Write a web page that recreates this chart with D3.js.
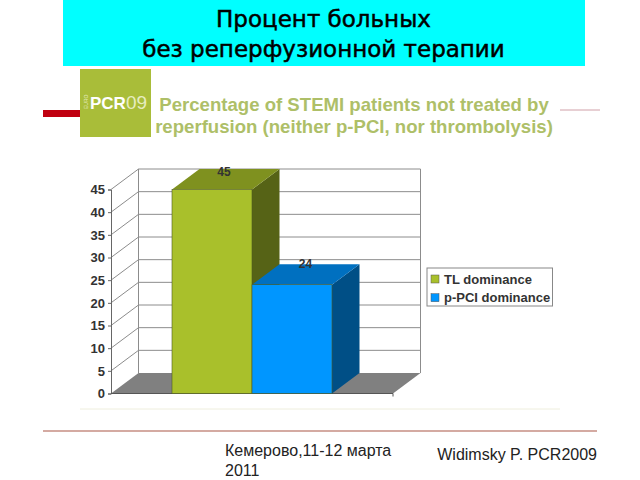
<!DOCTYPE html>
<html>
<head>
<meta charset="utf-8">
<script src="https://cdn.jsdelivr.net/npm/d3@7/dist/d3.min.js"></script>
<style>
html, body { margin: 0; padding: 0; background: #fff; }
svg { display: block; }
</style>
</head>
<body>
<svg id="chart" width="640" height="480"></svg>
<script>
var seriesNames = ["TL dominance", "p-PCI dominance"];
var seriesValues = [45, 24];
var tickLabels = [0, 5, 10, 15, 20, 25, 30, 35, 40, 45];
var titleLines = ["Процент больных", "без реперфузионной терапии"];
var subtitleLines = ["Percentage of STEMI patients not treated by", "reperfusion (neither p-PCI, nor thrombolysis)"];
var frontColors = ["#a9c02b", "#0096ff"];
var topColors = ["#7f911f", "#0070c0"];
var sideColors = ["#566316", "#004f86"];

var svg = d3.select("#chart");

// banner
svg.append("rect").attr("x", 63).attr("y", 0).attr("width", 522).attr("height", 66).attr("fill", "#00ffff");
svg.selectAll(".title").data(titleLines).enter().append("text")
    .attr("x", 323.5)
    .attr("y", function (d, i) { return 27 + i * 30; })
    .attr("text-anchor", "middle")
    .style("font-family", "DejaVu Sans")
    .style("font-size", "23px")
    .attr("fill", "#000")
    .attr("stroke", "#000")
    .attr("stroke-width", 0.5)
    .text(function (d) { return d; });

// decoration lines
svg.append("rect").attr("x", 43).attr("y", 110).attr("width", 38).attr("height", 7).attr("fill", "#c00010");
svg.append("line").attr("x1", 560).attr("x2", 600).attr("y1", 110).attr("y2", 110).attr("stroke", "#d0a0a8");
svg.append("line").attr("x1", 80).attr("x2", 560).attr("y1", 409).attr("y2", 409).attr("stroke", "#eeeedd");
svg.append("line").attr("x1", 43).attr("x2", 597).attr("y1", 431).attr("y2", 431).attr("stroke", "#d4aaa2").attr("stroke-width", 2);

// logo
svg.append("rect").attr("x", 80).attr("y", 69).attr("width", 71).attr("height", 68).attr("fill", "#a9bd39");
svg.append("text").attr("transform", "translate(88,109)rotate(-90)")
    .style("font-family", "Liberation Sans").style("font-size", "5px").attr("fill", "#e6ecc0").text("EURO");
svg.append("text").attr("x", 90).attr("y", 109)
    .style("font-family", "Liberation Sans").style("font-size", "17px").style("font-weight", "bold")
    .attr("fill", "#fff").text("PCR");
svg.append("text").attr("x", 126).attr("y", 109)
    .style("font-family", "Liberation Sans").style("font-size", "19px")
    .attr("fill", "#e6ecc0").text("09");

svg.selectAll(".subtitle").data(subtitleLines).enter().append("text")
    .attr("x", 354)
    .attr("y", function (d, i) { return 111 + i * 22; })
    .attr("text-anchor", "middle")
    .style("font-family", "Liberation Sans")
    .style("font-size", "18.6px")
    .style("font-weight", "bold")
    .attr("fill", "#aebf68")
    .text(function (d) { return d; });

// chart
var left = 111, right = 393, dx = 27.5, dy = 20.5;

var y = d3.scaleLinear().domain([0, 45]).range([393.5, 189.5]);
var x = d3.scaleBand().domain(seriesNames).range([172, 332]);

function pts(a) {
    return a.map(function (p) { return p.join(","); }).join(" ");
}

// floor
svg.append("polygon")
    .attr("points", pts([[left, y(0)], [right, y(0)], [right + dx, y(0) - dy], [left + dx, y(0) - dy]]))
    .attr("fill", "#808080");

// walls
svg.append("g").selectAll("polyline").data(tickLabels.slice(1)).enter().append("polyline")
    .attr("points", function (d) {
        return pts([[left, y(d)], [left + dx, y(d) - dy], [right + dx, y(d) - dy]]);
    })
    .attr("fill", "none")
    .attr("stroke", "#8c8c8c");
svg.append("line").attr("x1", left + dx).attr("x2", left + dx)
    .attr("y1", y(45) - dy).attr("y2", y(0) - dy).attr("stroke", "#8c8c8c");
svg.append("line").attr("x1", right + dx).attr("x2", right + dx)
    .attr("y1", y(45) - dy).attr("y2", y(0) - dy).attr("stroke", "#8c8c8c");

// y axis
var axis = svg.append("g")
    .attr("transform", "translate(" + left + ",0)")
    .call(d3.axisLeft(y).tickValues(tickLabels).tickSize(3).tickPadding(3));
axis.selectAll("path, line").attr("stroke", "#666");
axis.selectAll("text")
    .style("font-family", "Liberation Sans")
    .style("font-size", "13px")
    .style("font-weight", "bold")
    .attr("fill", "#333");

// bottom edge
svg.append("line").attr("x1", left).attr("x2", right).attr("y1", y(0)).attr("y2", y(0)).attr("stroke", "#555");
svg.append("line").attr("x1", right).attr("x2", right).attr("y1", y(0)).attr("y2", y(0) + 3).attr("stroke", "#555");

// bars
seriesNames.forEach(function (name, i) {
    var x0 = x(name), x1 = x0 + x.bandwidth(), v = seriesValues[i];
    svg.append("polygon")
        .attr("points", pts([[x1, y(v)], [x1 + dx, y(v) - dy], [x1 + dx, y(0) - dy], [x1, y(0)]]))
        .attr("fill", sideColors[i]);
    svg.append("polygon")
        .attr("points", pts([[x0, y(v)], [x0 + dx, y(v) - dy], [x1 + dx, y(v) - dy], [x1, y(v)]]))
        .attr("fill", topColors[i]);
    svg.append("rect")
        .attr("x", x0).attr("y", y(v))
        .attr("width", x.bandwidth()).attr("height", y(0) - y(v))
        .attr("fill", frontColors[i])
        .attr("stroke", "#4d5a20")
        .attr("stroke-width", 0.6);
    svg.append("text")
        .attr("x", x0 + 52 + i * 1.5)
        .attr("y", y(v) - dy + 7 - i * 3)
        .attr("text-anchor", "middle")
        .style("font-family", "Liberation Sans")
        .style("font-size", "12px")
        .style("font-weight", "bold")
        .attr("fill", "#333")
        .text(v);
});

// legend
svg.append("rect").attr("x", 427).attr("y", 268).attr("width", 125.5).attr("height", 38)
    .attr("fill", "#fff").attr("stroke", "#888");
var legend = svg.selectAll(".legend").data(seriesNames).enter().append("g")
    .attr("transform", function (d, i) { return "translate(431," + (279 + i * 18.7) + ")"; });
legend.append("rect").attr("x", 0).attr("y", -4).attr("width", 8).attr("height", 8)
    .attr("fill", function (d, i) { return frontColors[i]; })
    .attr("stroke", "#555").attr("stroke-width", 0.5);
legend.append("text").attr("x", 13).attr("y", 4.5)
    .style("font-family", "Liberation Sans")
    .style("font-size", "13px")
    .style("font-weight", "bold")
    .attr("fill", "#333")
    .text(function (d) { return d; });

// footer
var footer = svg.append("g")
    .style("font-family", "Liberation Sans")
    .style("font-size", "16px")
    .attr("fill", "#222");
footer.append("text").attr("x", 225).attr("y", 456).text("Кемерово,11-12 марта");
footer.append("text").attr("x", 225).attr("y", 476).text("2011");
footer.append("text").attr("x", 597).attr("y", 460).attr("text-anchor", "end").text("Widimsky P. PCR2009");
</script>
</body>
</html>
